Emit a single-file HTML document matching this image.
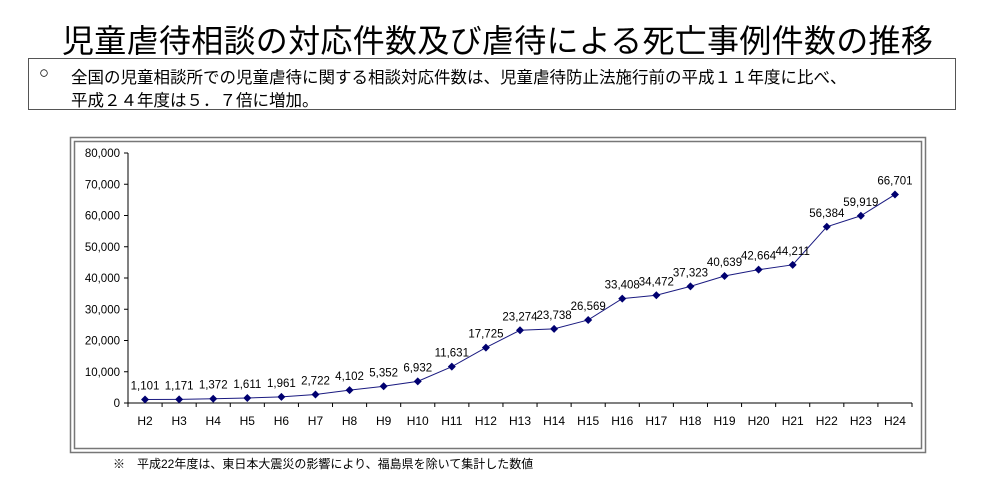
<!DOCTYPE html>
<html><head><meta charset="utf-8"><style>
body{margin:0;width:1003px;height:478px;background:#fff;position:relative;overflow:hidden;font-family:"Liberation Sans","Noto Sans CJK JP",sans-serif;}
#title{position:absolute;left:62px;top:16px;font-size:32px;white-space:nowrap;color:#000;letter-spacing:0.3px}
#box{position:absolute;left:28px;top:58px;width:928px;height:52px;border:1px solid #555;box-sizing:border-box}
.ln{position:absolute;font-size:16.5px;white-space:nowrap;left:42px}
</style></head><body>
<div id="title">児童虐待相談の対応件数及び虐待による死亡事例件数の推移</div>
<div id="box">
<span class="ln" style="left:10px;top:5px">○</span>
<span class="ln" style="top:5px">全国の児童相談所での児童虐待に関する相談対応件数は、児童虐待防止法施行前の平成１１年度に比べ、</span>
<span class="ln" style="top:28px">平成２４年度は５．７倍に増加。</span>
</div>
<svg id="chart" width="1003" height="478" style="position:absolute;left:0;top:0"></svg>
<script>
const categories=["H2","H3","H4","H5","H6","H7","H8","H9","H10","H11","H12","H13","H14","H15","H16","H17","H18","H19","H20","H21","H22","H23","H24"];
const values=[1101,1171,1372,1611,1961,2722,4102,5352,6932,11631,17725,23274,23738,26569,33408,34472,37323,40639,42664,44211,56384,59919,66701];
const valueLabels=["1,101","1,171","1,372","1,611","1,961","2,722","4,102","5,352","6,932","11,631","17,725","23,274","23,738","26,569","33,408","34,472","37,323","40,639","42,664","44,211","56,384","59,919","66,701"];
const yTicks=[0,10000,20000,30000,40000,50000,60000,70000,80000];
const yTickLabels=["0","10,000","20,000","30,000","40,000","50,000","60,000","70,000","80,000"];
const NS="http://www.w3.org/2000/svg",svg=document.getElementById('chart');
function mk(t,a,p){const e=document.createElementNS(NS,t);for(const k in a)e.setAttribute(k,a[k]);(p||svg).appendChild(e);return e;}
const x0=128,x1=912,y0=403,yTop=153,ymax=80000;
const step=(x1-x0)/categories.length;
const X=i=>x0+step*(i+0.5);
const Y=v=>y0-(v/ymax)*(y0-yTop);
let f=mk('rect',{x:70.5,y:137.5,width:855,height:315,fill:'none',stroke:'#777','stroke-width':1.5});


f=mk('rect',{x:74.5,y:141.5,width:847,height:307,fill:'none',stroke:'#777','stroke-width':1.5});


let a=mk('line',{x1:x0,y1:yTop,x2:x0,y2:y0,stroke:'#000'});


a=mk('line',{x1:x0,y1:y0,x2:x1,y2:y0,stroke:'#000'});


yTicks.forEach((v,i)=>{
 mk('line',{x1:x0-4,y1:Y(v),x2:x0,y2:Y(v),stroke:'#000'});
 const t=mk('text',{x:x0-8,y:Y(v)+4,'text-anchor':'end','font-size':11.5});
 t.textContent=yTickLabels[i];
 
 
});
for(let i=0;i<=categories.length;i++)mk('line',{x1:x0+step*i,y1:y0,x2:x0+step*i,y2:y0+4,stroke:'#000'});
categories.forEach((c,i)=>{
 const t=mk('text',{x:X(i),y:y0+22,'text-anchor':'middle','font-size':12});
 t.textContent=c;
 
 
});
const l=mk('polyline',{points:values.map((v,i)=>X(i)+','+Y(v)).join(' '),fill:'none',stroke:'#1a1a80','stroke-width':1});


values.forEach((v,i)=>{
 const x=X(i),y=Y(v);
 const p=mk('polygon',{points:`${x},${y-4} ${x+4},${y} ${x},${y+4} ${x-4},${y}`,fill:'#000070'});
 
 
 const t=mk('text',{x:x,y:y-10,'text-anchor':'middle','font-size':11.5});
 t.textContent=valueLabels[i];
 
 
});
const fn=mk('text',{x:113,y:468,'font-size':12,'font-family':'"Liberation Sans","Noto Sans CJK JP",sans-serif'});
fn.textContent="※　平成22年度は、東日本大震災の影響により、福島県を除いて集計した数値";


</script>
</body></html>
